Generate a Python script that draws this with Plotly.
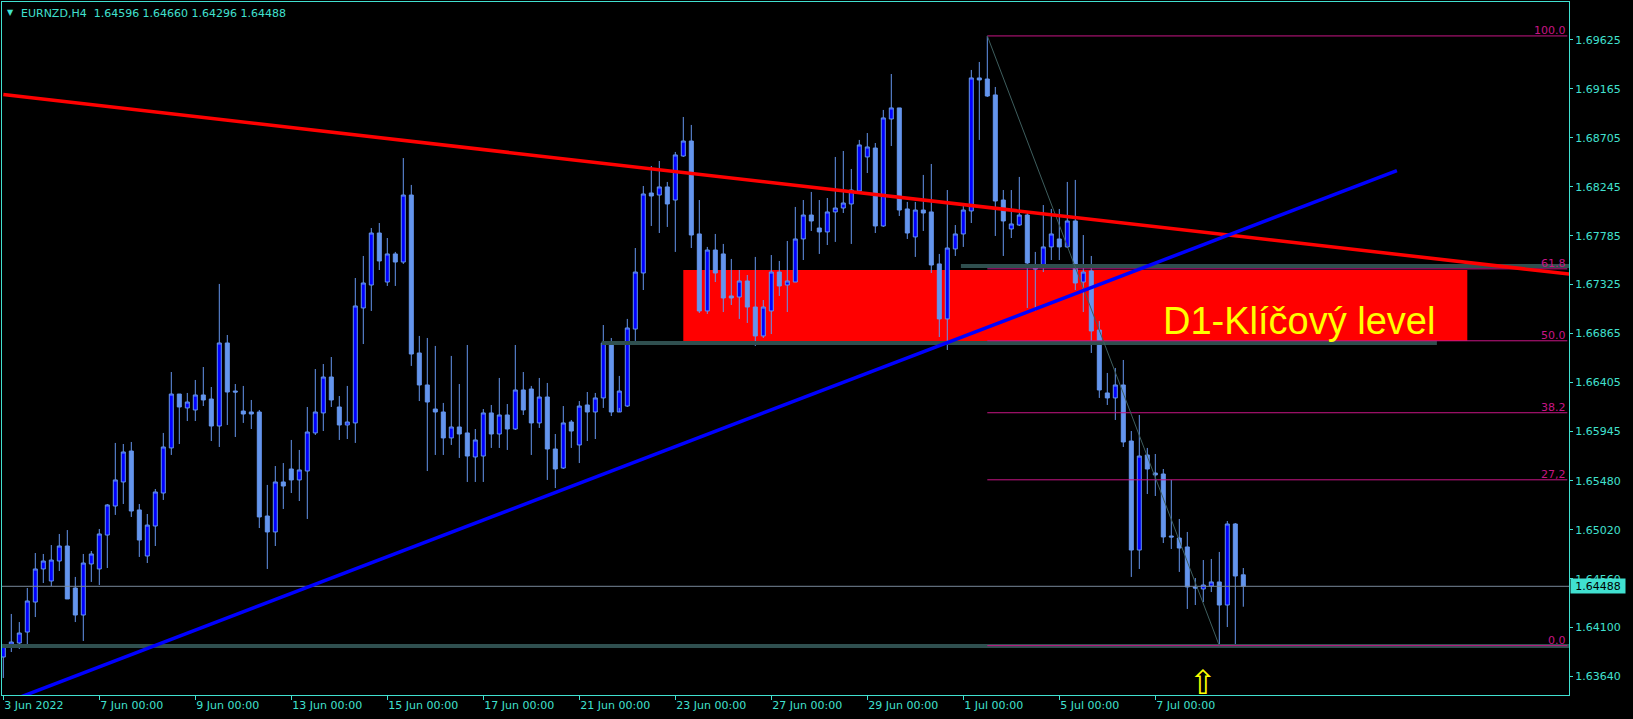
import plotly.graph_objects as go

# ---------------- data: EURNZD H4 bars, 3 Jun 2022 00:00 -> 8 Jul 2022 20:00 ----------------
OPEN = [1.63823, 1.63927, 1.63955, 1.64058, 1.64340, 1.64651, 1.64538, 1.64726, 1.64867, 1.64472,
        1.64218, 1.64698, 1.64651, 1.64970, 1.65243, 1.65469, 1.65760, 1.65206, 1.64773, 1.65055,
        1.65365, 1.65789, 1.66296, 1.66165, 1.66146, 1.66287, 1.66249, 1.65995, 1.66776, 1.66324,
        1.66136, 1.66127, 1.66127, 1.65149, 1.64999, 1.65469, 1.65591, 1.65488, 1.65572, 1.65930,
        1.66118, 1.66456, 1.66174, 1.66005, 1.66024, 1.67105, 1.67321, 1.67810, 1.67349, 1.67613,
        1.67537, 1.68167, 1.66682, 1.66381, 1.66155, 1.66127, 1.65883, 1.65986, 1.65930, 1.65704,
        1.65713, 1.66118, 1.65920, 1.66099, 1.65967, 1.66334, 1.66343, 1.66024, 1.66268, 1.65779,
        1.65600, 1.66033, 1.65817, 1.66193, 1.66127, 1.66259, 1.66776, 1.66127, 1.66183, 1.66907,
        1.67434, 1.68186, 1.68167, 1.68243, 1.68120, 1.68534, 1.68675, 1.67801, 1.67077, 1.67650,
        1.67613, 1.67218, 1.67208, 1.67359, 1.67114, 1.66842, 1.67077, 1.67443, 1.67321, 1.67349,
        1.67754, 1.67979, 1.67857, 1.67820, 1.68008, 1.68045, 1.68083, 1.68205, 1.68525, 1.68609,
        1.67876, 1.68882, 1.68986, 1.68036, 1.67773, 1.68026, 1.68008, 1.67519, 1.67002, 1.67660,
        1.67801, 1.68017, 1.69268, 1.69258, 1.69108, 1.68120, 1.67848, 1.67885, 1.67979, 1.67481,
        1.67500, 1.67679, 1.67754, 1.67679, 1.67923, 1.67349, 1.67453, 1.66898, 1.66306, 1.66259,
        1.66381, 1.65854, 1.64829, 1.65723, 1.65553, 1.65544, 1.64961, 1.64942, 1.64858, 1.64482,
        1.64463, 1.64491, 1.64529, 1.64312, 1.65074, 1.64596]

HIGH = [1.63946, 1.64228, 1.64152, 1.64472, 1.64801, 1.64792, 1.64876, 1.64980, 1.65017, 1.64576,
        1.64792, 1.64820, 1.65027, 1.65262, 1.65836, 1.65826, 1.65845, 1.65262, 1.65168, 1.65403,
        1.65930, 1.66503, 1.66296, 1.66306, 1.66428, 1.66550, 1.66362, 1.67331, 1.66851, 1.66390,
        1.66372, 1.66240, 1.66146, 1.65441, 1.65619, 1.65647, 1.65864, 1.65770, 1.66174, 1.66531,
        1.66578, 1.66644, 1.66277, 1.66372, 1.67387, 1.67594, 1.67857, 1.67904, 1.67763, 1.67632,
        1.68515, 1.68262, 1.66842, 1.66823, 1.66748, 1.66212, 1.66654, 1.66390, 1.66757, 1.65967,
        1.66155, 1.66193, 1.66447, 1.66202, 1.66757, 1.66503, 1.66372, 1.66447, 1.66400, 1.65920,
        1.66183, 1.66052, 1.66230, 1.66315, 1.66306, 1.66945, 1.66823, 1.66466, 1.67002, 1.67669,
        1.68252, 1.68440, 1.68487, 1.68290, 1.68572, 1.68901, 1.68826, 1.68120, 1.67679, 1.67801,
        1.67707, 1.67566, 1.67462, 1.67415, 1.67585, 1.67180, 1.67603, 1.67547, 1.67735, 1.68055,
        1.68120, 1.68196, 1.68120, 1.68139, 1.68525, 1.68581, 1.68412, 1.68685, 1.68750, 1.68656,
        1.68967, 1.69305, 1.68986, 1.68102, 1.68102, 1.68356, 1.68459, 1.67613, 1.68214, 1.67885,
        1.68092, 1.69343, 1.69418, 1.69663, 1.69183, 1.68214, 1.68214, 1.68337, 1.67998, 1.67632,
        1.68073, 1.68036, 1.68036, 1.68290, 1.68309, 1.67791, 1.67594, 1.66983, 1.66494, 1.66541,
        1.66616, 1.65948, 1.66099, 1.65789, 1.65732, 1.65591, 1.65488, 1.65121, 1.64999, 1.64566,
        1.64735, 1.64745, 1.64811, 1.65102, 1.65083, 1.64660]

LOW = [1.63626, 1.63870, 1.63899, 1.63917, 1.64199, 1.64519, 1.64491, 1.64632, 1.64397, 1.64152,
       1.63974, 1.64529, 1.64500, 1.64660, 1.65159, 1.65262, 1.65140, 1.64764, 1.64707, 1.64867,
       1.65300, 1.65723, 1.65826, 1.66042, 1.66042, 1.66183, 1.65854, 1.65798, 1.66005, 1.65892,
       1.66024, 1.65967, 1.65036, 1.64651, 1.64867, 1.65215, 1.65365, 1.65290, 1.65121, 1.65911,
       1.65948, 1.66174, 1.65864, 1.65873, 1.65836, 1.66766, 1.67077, 1.67462, 1.67312, 1.67312,
       1.67519, 1.66560, 1.66230, 1.65572, 1.65723, 1.65723, 1.65817, 1.65695, 1.65469, 1.65469,
       1.65469, 1.65789, 1.65789, 1.65770, 1.65958, 1.66099, 1.65723, 1.65977, 1.65488, 1.65412,
       1.65591, 1.65789, 1.65647, 1.65854, 1.65873, 1.66165, 1.66089, 1.66165, 1.66174, 1.66795,
       1.67274, 1.67876, 1.67810, 1.67867, 1.67632, 1.68525, 1.67669, 1.67058, 1.67049, 1.67349,
       1.67067, 1.67133, 1.67002, 1.66964, 1.66748, 1.66823, 1.66860, 1.67218, 1.67067, 1.67349,
       1.67556, 1.67829, 1.67613, 1.67697, 1.67726, 1.67998, 1.67707, 1.68205, 1.68374, 1.67810,
       1.67867, 1.68628, 1.67970, 1.67754, 1.67585, 1.67829, 1.67434, 1.66832, 1.66710, 1.67594,
       1.67679, 1.67904, 1.68685, 1.69089, 1.67782, 1.67594, 1.67763, 1.67876, 1.67105, 1.67077,
       1.67443, 1.67556, 1.67556, 1.67669, 1.67274, 1.67067, 1.66682, 1.66259, 1.66193, 1.66052,
       1.65798, 1.64576, 1.64651, 1.65356, 1.65337, 1.64895, 1.64839, 1.64623, 1.64275, 1.64312,
       1.64340, 1.64434, 1.63930, 1.64105, 1.63936, 1.64296]

CLOSE = [1.63936, 1.63964, 1.64049, 1.64350, 1.64651, 1.64726, 1.64735, 1.64867, 1.64369, 1.64218,
         1.64707, 1.64792, 1.64980, 1.65253, 1.65488, 1.65751, 1.65196, 1.64923, 1.65064, 1.65375,
         1.65798, 1.66296, 1.66174, 1.66221, 1.66287, 1.66240, 1.65995, 1.66776, 1.66315, 1.66315,
         1.66108, 1.66108, 1.65140, 1.64999, 1.65469, 1.65431, 1.65488, 1.65582, 1.65939, 1.66127,
         1.66456, 1.66240, 1.66005, 1.66033, 1.67124, 1.67340, 1.67810, 1.67547, 1.67613, 1.67537,
         1.68167, 1.66672, 1.66381, 1.66221, 1.66127, 1.65883, 1.65986, 1.65920, 1.65713, 1.65864,
         1.66118, 1.65920, 1.66099, 1.65967, 1.66334, 1.66146, 1.66024, 1.66268, 1.65779, 1.65591,
         1.66024, 1.65948, 1.66183, 1.66127, 1.66259, 1.66776, 1.66127, 1.66324, 1.66917, 1.67443,
         1.68177, 1.68158, 1.68243, 1.68083, 1.68544, 1.68675, 1.67791, 1.67077, 1.67650, 1.67434,
         1.67199, 1.67199, 1.67359, 1.67114, 1.66842, 1.67114, 1.67443, 1.67312, 1.67359, 1.67754,
         1.67979, 1.67923, 1.67820, 1.68008, 1.68045, 1.68092, 1.68214, 1.68638, 1.68619, 1.67876,
         1.68892, 1.68986, 1.68026, 1.67810, 1.68026, 1.67998, 1.67509, 1.67002, 1.67669, 1.67801,
         1.68026, 1.69268, 1.69249, 1.69098, 1.68111, 1.67923, 1.67895, 1.67979, 1.67528, 1.67472,
         1.67679, 1.67801, 1.67679, 1.67923, 1.67340, 1.67443, 1.66889, 1.66334, 1.66259, 1.66381,
         1.65845, 1.64829, 1.65713, 1.65591, 1.65535, 1.64952, 1.64952, 1.64848, 1.64482, 1.64472,
         1.64500, 1.64529, 1.64312, 1.65074, 1.64585, 1.64488]

# x-axis labels (bar index -> label)
TICK_BARS = [0, 12, 24, 36, 48, 60, 72, 84, 96, 108, 120, 132, 144]
TICK_LABELS = ["3 Jun 2022", "7 Jun 00:00", "9 Jun 00:00", "13 Jun 00:00", "15 Jun 00:00",
               "17 Jun 00:00", "21 Jun 00:00", "23 Jun 00:00", "27 Jun 00:00", "29 Jun 00:00",
               "1 Jul 00:00", "5 Jul 00:00", "7 Jul 00:00"]

# price-axis labels
PRICE_TICKS = [1.69625, 1.69165, 1.68705, 1.68245, 1.67785, 1.67325, 1.66865,
               1.66405, 1.65945, 1.65480, 1.65020, 1.64560, 1.64100, 1.63640]
PRICE_TICK_LABELS = ["1.69625", "1.69165", "1.68705", "1.68245", "1.67785", "1.67325", "1.66865",
                     "1.66405", "1.65945", "1.65480", "1.65020", "1.64560", "1.64100", "1.63640"]

SYMBOL_TEXT = "EURNZD,H4\u00a0 1.64596 1.64660 1.64296 1.64488"
LAST_PRICE = 1.64488
LAST_PRICE_TEXT = "1.64488"

# Fibonacci retracement (high bar -> low bar)
FIB_START_BAR = 123
FIB_END_BAR = 152
FIB_RAY_END_BAR = 195.5
FIB_HIGH = 1.69663
FIB_LOW = 1.63930
FIB_LEVELS = [100.0, 61.8, 50.0, 38.2, 27.2, 0.0]
FIB_LABELS = ["100.0", "61.8", "50.0", "38.2", "27,2", "0.0"]

# key level zone
ZONE_START_BAR = 85
ZONE_END_BAR = 183
ZONE_TOP = 1.67462
ZONE_BOTTOM = 1.66795
ZONE_TEXT = "D1-Klíčový level"
ZONE_TEXT_BAR = 144.7
ZONE_TEXT_PRICE = 1.66978

# trend lines (bar index, price)
RED_LINE_BARS = [0, 200]
RED_LINE_PRICES = [1.69112, 1.67387]
BLUE_LINE_BARS = [0, 174.2]
BLUE_LINE_PRICES = [1.63385, 1.68396]

# horizontal support/resistance lines
GRAY_LINE_PRICES = [1.63927, 1.67500, 1.66776]
GRAY_LINE_STARTS = [-5, 119.7, 74.8]
GRAY_LINE_ENDS = [205, 205, 179.2]

ARROW_BAR = 150
ARROW_PRICE = 1.63588

X_RANGE = [-0.1625, 195.7125]
Y_RANGE = [1.63466, 1.69982]

# ---------------- styles ----------------
AXIS_COLOR = "#40E0D0"
BULL_FILL = "#0000FF"
BEAR_FILL = "#6495ED"
WICK = "#6495ED"
FIB_COLOR = "#C71585"
GRAY = "#2F4F4F"
FONT = "DejaVu Sans"

fig = go.Figure()

fig.add_shape(type="rect", xref="x", yref="y",
              x0=ZONE_START_BAR, x1=ZONE_END_BAR, y0=ZONE_BOTTOM, y1=ZONE_TOP,
              fillcolor="#FF0000", line=dict(width=0), layer="below")

bars = list(range(len(OPEN)))
fig.add_trace(go.Candlestick(
    x=bars, open=OPEN, high=HIGH, low=LOW, close=CLOSE,
    increasing=dict(line=dict(color=WICK, width=1), fillcolor=BULL_FILL),
    decreasing=dict(line=dict(color=WICK, width=1), fillcolor=BEAR_FILL),
    whiskerwidth=0, hoverinfo="skip", showlegend=False))

# bid line
fig.add_trace(go.Scatter(x=[X_RANGE[0] - 5, X_RANGE[1] + 5], y=[LAST_PRICE, LAST_PRICE],
                         mode="lines", line=dict(color="#778899", width=1), hoverinfo="skip"))

for price, x0, x1 in zip(GRAY_LINE_PRICES, GRAY_LINE_STARTS, GRAY_LINE_ENDS):
    fig.add_trace(go.Scatter(x=[x0, x1], y=[price, price], mode="lines",
                             line=dict(color=GRAY, width=4), hoverinfo="skip"))

annotations = []
for lvl, lab in zip(FIB_LEVELS, FIB_LABELS):
    p = FIB_LOW + lvl / 100.0 * (FIB_HIGH - FIB_LOW)
    fig.add_trace(go.Scatter(x=[FIB_START_BAR, FIB_RAY_END_BAR], y=[p, p], mode="lines",
                             line=dict(color=FIB_COLOR, width=1), hoverinfo="skip"))
    annotations.append(dict(text=lab, xref="paper", yref="y", x=1, y=p,
                            xanchor="right", yanchor="bottom", xshift=-1, yshift=-3,
                            showarrow=False, font=dict(family=FONT, size=11, color=FIB_COLOR)))

fig.add_trace(go.Scatter(x=[FIB_START_BAR, FIB_END_BAR], y=[FIB_HIGH, FIB_LOW], mode="lines",
                         line=dict(color="#3E5E5E", width=1), hoverinfo="skip"))

fig.add_trace(go.Scatter(x=RED_LINE_BARS, y=RED_LINE_PRICES, mode="lines",
                         line=dict(color="#FF0000", width=3.5), hoverinfo="skip"))
fig.add_trace(go.Scatter(x=BLUE_LINE_BARS, y=BLUE_LINE_PRICES, mode="lines",
                         line=dict(color="#0000FF", width=3.5), hoverinfo="skip"))

annotations.append(dict(text=ZONE_TEXT, x=ZONE_TEXT_BAR, y=ZONE_TEXT_PRICE, xref="x", yref="y",
                        xanchor="left", yanchor="middle", showarrow=False,
                        font=dict(family="Liberation Sans", size=38, color="#FFFF00")))
annotations.append(dict(text="⇧", x=ARROW_BAR, y=ARROW_PRICE, xref="x", yref="y",
                        xanchor="center", yanchor="middle", showarrow=False,
                        font=dict(family=FONT, size=33, color="#FFFF00")))
annotations.append(dict(text=SYMBOL_TEXT, xref="paper", yref="paper", x=0, y=1,
                        xanchor="left", yanchor="top", xshift=17, yshift=-3, showarrow=False,
                        font=dict(family=FONT, size=11, color=AXIS_COLOR)))
annotations.append(dict(text="▼", xref="paper", yref="paper", x=0, y=1,
                        xanchor="center", yanchor="top", xshift=8.5, yshift=-4, showarrow=False,
                        font=dict(family=FONT, size=8, color=AXIS_COLOR)))
annotations.append(dict(text=LAST_PRICE_TEXT, xref="paper", yref="y", x=1, y=LAST_PRICE,
                        xanchor="left", yanchor="middle", xshift=1, showarrow=False,
                        width=52, height=12, borderpad=1, bgcolor=AXIS_COLOR,
                        font=dict(family=FONT, size=11, color="#000000")))

fig.update_layout(
    width=1633, height=719,
    margin=dict(l=2, r=64, t=2, b=24),
    paper_bgcolor="#000000", plot_bgcolor="#000000",
    showlegend=False, hovermode=False,
    boxgap=0.5, boxgroupgap=0,
    font=dict(family=FONT, size=11, color=AXIS_COLOR),
    annotations=annotations,
    xaxis=dict(range=X_RANGE, tickmode="array", tickvals=TICK_BARS, ticktext=TICK_LABELS,
               ticks="outside", ticklen=4, tickcolor=AXIS_COLOR, tickwidth=1,
               ticklabelposition="outside right",
               showline=True, linecolor=AXIS_COLOR, linewidth=1, mirror=True,
               showgrid=False, zeroline=False, rangeslider=dict(visible=False),
               tickfont=dict(family=FONT, size=11, color=AXIS_COLOR)),
    yaxis=dict(range=Y_RANGE, side="right", tickmode="array", tickvals=PRICE_TICKS,
               ticktext=PRICE_TICK_LABELS, ticks="outside", ticklen=3, tickcolor=AXIS_COLOR,
               showline=True, linecolor=AXIS_COLOR, linewidth=1, mirror=True,
               showgrid=False, zeroline=False,
               tickfont=dict(family=FONT, size=11, color=AXIS_COLOR)),
)

fig.write_html("out.html",
               config={"displayModeBar": False},
               post_script="document.body.style.margin='0px';document.body.style.background='#000';")
